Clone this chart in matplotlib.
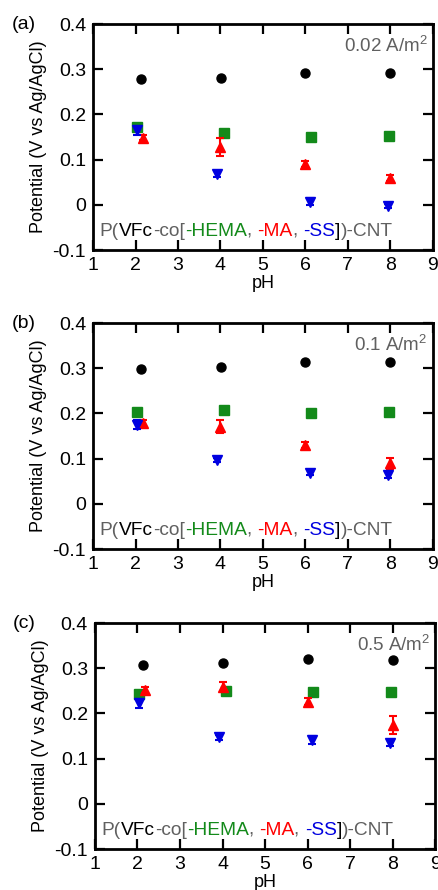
import matplotlib
matplotlib.use("Agg")
import matplotlib.pyplot as plt
import numpy as np
from matplotlib.offsetbox import AnchoredOffsetbox, HPacker, TextArea

plt.rcParams["font.family"] = ["Liberation Sans", "DejaVu Sans"]
plt.rcParams["mathtext.fontset"] = "custom"
plt.rcParams["mathtext.rm"] = "Liberation Sans"
plt.rcParams["mathtext.it"] = "Liberation Sans:italic"
plt.rcParams["mathtext.default"] = "regular"

# ---------------------------------------------------------------------------
# data (pH positions are slightly staggered in the original)
# ---------------------------------------------------------------------------
panel_labels = ["(a)", "(b)", "(c)"]
current_labels = ["0.02 A/m$^2$", "0.1 A/m$^2$", "0.5 A/m$^2$"]

ph_black = [2.13, 4.01, 6.0, 8.0]
ph_green = [2.03, 4.08, 6.12, 7.96]
ph_red = [2.17, 4.0, 6.0, 8.0]
ph_blue = [2.03, 3.92, 6.1, 7.94]

# P(VFc)-CNT (black circles)
black_a = [0.278, 0.281, 0.292, 0.292]
black_b = [0.298, 0.303, 0.314, 0.313]
black_c = [0.307, 0.312, 0.320, 0.319]

# -HEMA (green squares)
green_a = [0.172, 0.159, 0.150, 0.153]
green_b = [0.204, 0.208, 0.202, 0.203]
green_c = [0.243, 0.250, 0.248, 0.248]

# -MA (red triangles)
red_a = [0.149, 0.129, 0.091, 0.060]
red_a_err = [0.006, 0.020, 0.007, 0.007]
red_b = [0.180, 0.171, 0.130, 0.090]
red_b_err = [0.006, 0.014, 0.006, 0.012]
red_c = [0.252, 0.259, 0.226, 0.174]
red_c_err = [0.006, 0.010, 0.008, 0.020]

# -SS (blue down triangles)
blue_a = [0.165, 0.068, 0.007, -0.002]
blue_a_err = [0.010, 0.006, 0.008, 0.004]
blue_b = [0.175, 0.097, 0.069, 0.064]
blue_b_err = [0.010, 0.005, 0.005, 0.006]
blue_c = [0.222, 0.147, 0.141, 0.135]
blue_c_err = [0.010, 0.005, 0.008, 0.006]

panels = [
    (black_a, green_a, red_a, red_a_err, blue_a, blue_a_err),
    (black_b, green_b, red_b, red_b_err, blue_b, blue_b_err),
    (black_c, green_c, red_c, red_c_err, blue_c, blue_c_err),
]

GREEN = "#138a1a"
RED = "#ff0000"
BLUE = "#0000e0"
GRAY = "#606060"

# axes rectangles in figure fractions (left, bottom, width, height)
rects = [
    (0.212, 0.719, 0.774, 0.254),
    (0.212, 0.383, 0.774, 0.254),
    (0.216, 0.046, 0.776, 0.254),
]

fig = plt.figure(figsize=(4.39, 8.90), dpi=100)

for i, (blk, grn, red, red_err, blu, blu_err) in enumerate(panels):
    ax = fig.add_axes(rects[i])

    ax.plot(ph_green, grn, "s", color=GREEN, ms=7.5, zorder=3)
    ax.errorbar(ph_red, red, yerr=red_err, fmt="^", color=RED, ms=7,
                ecolor=RED, elinewidth=1.5, capsize=3, capthick=1.5, zorder=4)
    ax.errorbar(ph_blue, blu, yerr=blu_err, fmt="v", color=BLUE, ms=7,
                ecolor=BLUE, elinewidth=1.5, capsize=3, capthick=1.5, zorder=5)
    ax.plot(ph_black, blk, "o", color="black", ms=6.5, zorder=6)

    ax.set_xlim(1, 9)
    ax.set_ylim(-0.1, 0.4)
    ax.set_xticks(np.arange(1, 10, 1))
    ax.set_yticks([-0.1, 0, 0.1, 0.2, 0.3, 0.4])
    ax.set_yticklabels(["-0.1", "0", "0.1", "0.2", "0.3", "0.4"])
    ax.tick_params(direction="in", length=7, width=1.6, labelsize=14,
                   top=True, right=True, pad=5)
    for sp in ax.spines.values():
        sp.set_linewidth(2)

    ax.set_xlabel("pH", fontsize=13, labelpad=1)
    ax.set_ylabel("Potential (V vs Ag/AgCl)", fontsize=13, labelpad=4)

    ax.text(0.985, 0.905, current_labels[i], transform=ax.transAxes,
            ha="right", va="center", fontsize=13.5, color=GRAY)
    ax.text(-0.24, 1.0, panel_labels[i], transform=ax.transAxes,
            ha="left", va="center", fontsize=14, color="black")

    # multi-coloured polymer label
    parts = [
        ("P(", GRAY), ("VFc", "black"), ("-co[", GRAY), ("-HEMA", GREEN),
        (", ", GRAY), ("-MA", RED), (", ", GRAY), ("-SS", BLUE),
        ("]", "black"), (")-CNT", GRAY),
    ]
    boxes = [TextArea(t, textprops=dict(color=c, fontsize=13.8)) for t, c in parts]
    pack = HPacker(children=boxes, align="baseline", pad=0, sep=0)
    anchored = AnchoredOffsetbox(loc="lower left", child=pack, pad=0,
                                 frameon=False, borderpad=0,
                                 bbox_to_anchor=(0.02, 0.045),
                                 bbox_transform=ax.transAxes)
    ax.add_artist(anchored)

fig.savefig("out.png", dpi=100)
